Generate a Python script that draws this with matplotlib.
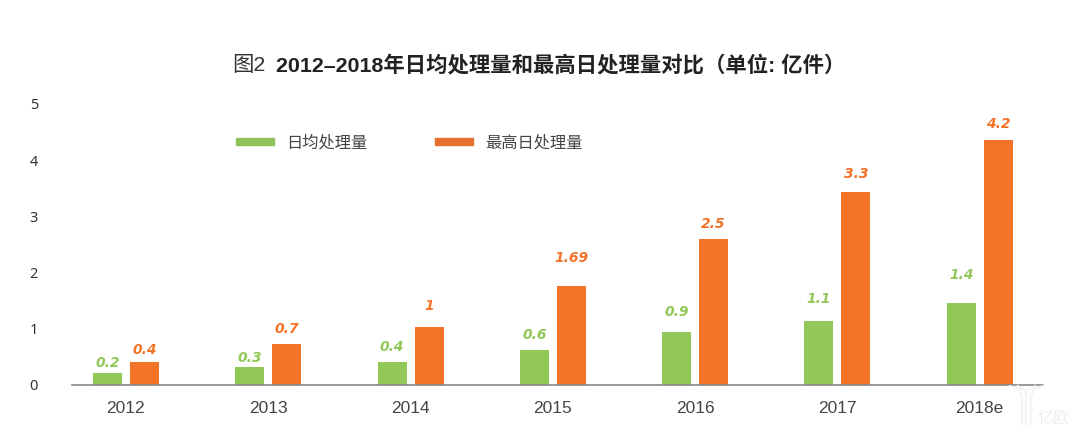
import matplotlib
matplotlib.use('Agg')
import matplotlib.pyplot as plt
from matplotlib.lines import Line2D
import numpy as np

plt.rcParams['font.family'] = ['Liberation Sans', 'Noto Sans CJK SC', 'DejaVu Sans']

years = ['2012', '2013', '2014', '2015', '2016', '2017', '2018e']
daily = [0.2, 0.3, 0.4, 0.6, 0.9, 1.1, 1.4]
peak = [0.4, 0.7, 1, 1.69, 2.5, 3.3, 4.2]
daily_labels = ['0.2', '0.3', '0.4', '0.6', '0.9', '1.1', '1.4']
peak_labels = ['0.4', '0.7', '1', '1.69', '2.5', '3.3', '4.2']
y_ticks = [0, 1, 2, 3, 4, 5]
title_a = '图2'
title_b = '2012–2018年日均处理量和最高日处理量对比（单位: 亿件）'
legend_names = ['日均处理量', '最高日处理量']
watermark = '亿欧'

# label gap above each bar, in pixels
daily_gap = [11, 10, 16, 16, 21, 23, 29]
peak_gap = [13, 16, 22, 29, 16, 19, 17]

GREEN = '#92c857'
ORANGE = '#f37329'
W, H = 1080, 435
PX = 72 / 100  # points per pixel

fig = plt.figure(figsize=(W / 100, H / 100), dpi=100)
ax = fig.add_axes([72 / W, 1 - 386 / H, (1043 - 72) / W, (386 - 90) / H])
x = np.arange(len(years))
w = 0.2035
off = 0.13
ax.bar(x - off, daily, w, color=GREEN)
ax.bar(x + off, peak, w, color=ORANGE)
ax.set_xlim(-0.379, -0.379 + 971 / 142.3)
# the picture draws bars at 58.4 px per unit, its y labels at 56.2 px per unit
ax.set_ylim(0, 296 / 58.4)
ax.set_yticks([(t * 56.2 + 1) / 58.4 for t in y_ticks])
ax.set_yticklabels([str(t) for t in y_ticks], family='Noto Sans', fontsize=10.5, color='#333333')
ax.tick_params(axis='both', length=0)
ax.tick_params(axis='y', pad=24.5)
ax.tick_params(axis='x', pad=11)
ax.set_xticks(x)
ax.set_xticklabels(years, fontsize=12.5, color='#444444')
for s in ['top', 'left', 'right']:
    ax.spines[s].set_visible(False)
ax.spines['bottom'].set_color('#888888')
ax.spines['bottom'].set_linewidth(1.2)

label_style = dict(textcoords='offset points', ha='center', va='center', fontsize=10,
                   style='italic', fontweight='bold', family='DejaVu Sans')
for i in range(len(years)):
    ax.annotate(daily_labels[i], (x[i] - off, daily[i]), xytext=(0, daily_gap[i] * PX), color=GREEN, **label_style)
    ax.annotate(peak_labels[i], (x[i] + off, peak[i]), xytext=(0, peak_gap[i] * PX), color=ORANGE, **label_style)

fig.text(232 / W, 1 - 71 / H, title_a, fontsize=15.4, color='#333333', va='baseline')
fig.text(276 / W, 1 - 71 / H, title_b, fontsize=15.4, color='#222222', va='baseline', fontweight='bold')

for x0, c, name in zip([236, 435], ['#8fc25a', '#e8702e'], legend_names):
    fig.patches.append(plt.Rectangle((x0 / W, 1 - 145.5 / H), 38 / W, 7 / H, transform=fig.transFigure, color=c))
    fig.text((x0 + 50) / W, 1 - 143 / H, name, fontsize=11.7, color='#444444', va='center')

# faint watermark
fig.text(1038 / W, 1 - 419 / H, watermark, fontsize=11.5, color='#eeeeee', va='center')
for xs, ys in [([1010, 1019, 1022, 1022], [387, 390, 398, 425]),
               ([1043, 1034, 1031, 1031], [387, 390, 398, 425]),
               ([1018, 1026, 1026], [387, 392, 425]),
               ([1035, 1027], [387, 392])]:
    fig.add_artist(Line2D([v / W for v in xs], [1 - v / H for v in ys], transform=fig.transFigure,
                          color='#f4f4f4', lw=1.5))

fig.savefig('out.png', dpi=100)
